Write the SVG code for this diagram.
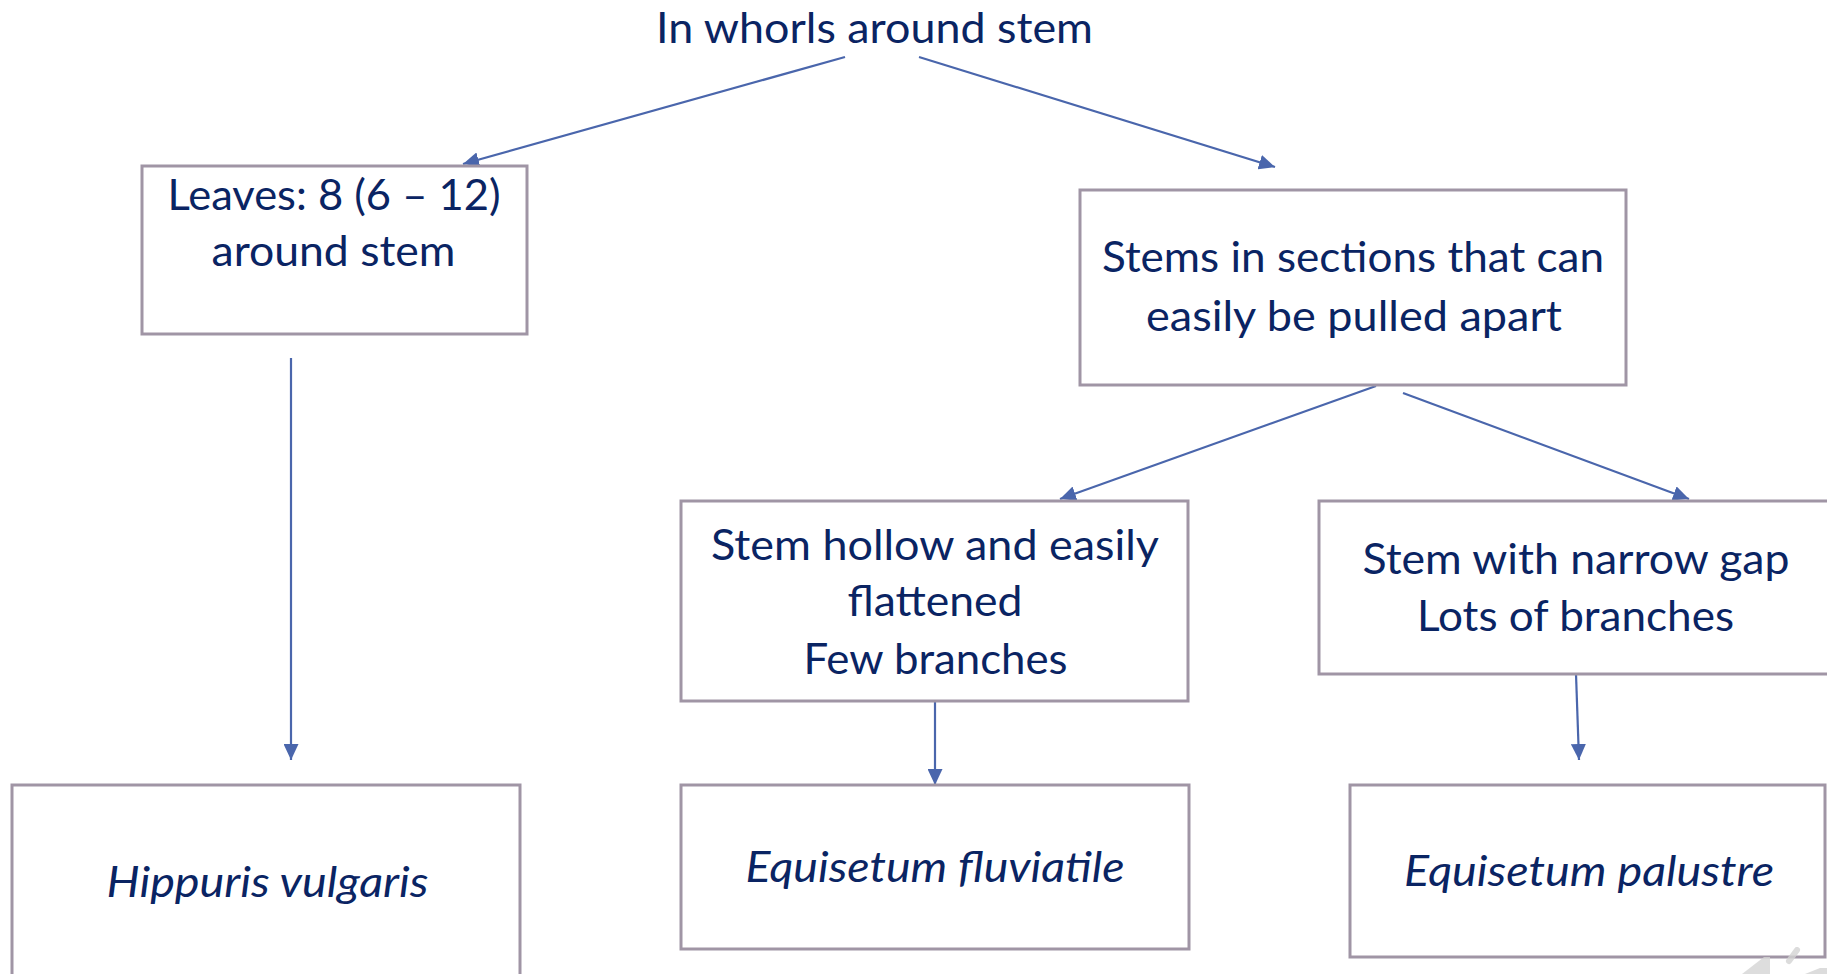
<svg xmlns="http://www.w3.org/2000/svg" width="1827" height="974" viewBox="0 0 1827 974">
<style>
.box{fill:#ffffff;stroke:#a095a5;stroke-width:3}
.t{font-family:Lato,"Open Sans","Liberation Sans",sans-serif;font-size:42px;fill:#0a2463;text-anchor:middle}
.i{font-style:italic}
.c{stroke:#4a66ac;stroke-width:2.2;fill:none;marker-end:url(#ah)}
</style>
<defs>
<marker id="ah" markerUnits="userSpaceOnUse" markerWidth="16" markerHeight="15" refX="16" refY="7.5" orient="auto">
<path d="M0,0 L16,7.5 L0,15 z" fill="#4a66ac"/>
</marker>
</defs>
<rect width="1827" height="974" fill="#ffffff"/>
<g id="title">
<text class="t" x="874.5" y="43" textLength="437" lengthAdjust="spacingAndGlyphs">In whorls around stem</text>
</g>
<g id="connectors">
<line class="c" x1="845" y1="57" x2="463" y2="164"/>
<line class="c" x1="919" y1="57" x2="1275" y2="167"/>
<line class="c" x1="1376" y1="386" x2="1060" y2="499"/>
<line class="c" x1="1403" y1="393" x2="1689" y2="499"/>
<line class="c" x1="291" y1="358" x2="291" y2="760"/>
<line class="c" x1="935" y1="701" x2="935" y2="785"/>
<line class="c" x1="1576" y1="674" x2="1579" y2="760"/>
</g>
<g id="leaves">
<rect class="box" x="142" y="166" width="385" height="168"/>
<text class="t" x="334" y="210" textLength="333" lengthAdjust="spacingAndGlyphs">Leaves: 8 (6 – 12)</text>
<text class="t" x="333.5" y="266" textLength="244" lengthAdjust="spacingAndGlyphs">around stem</text>
</g>
<g id="stems-sections">
<rect class="box" x="1080" y="190" width="546" height="195"/>
<text class="t" x="1353" y="272" textLength="502" lengthAdjust="spacingAndGlyphs">Stems in sections that can</text>
<text class="t" x="1354" y="331" textLength="416" lengthAdjust="spacingAndGlyphs">easily be pulled apart</text>
</g>
<g id="stem-hollow">
<rect class="box" x="681" y="501" width="507" height="200"/>
<text class="t" x="935" y="560" textLength="448" lengthAdjust="spacingAndGlyphs">Stem hollow and easily</text>
<text class="t" x="935" y="616" textLength="175" lengthAdjust="spacingAndGlyphs">flattened</text>
<text class="t" x="935.5" y="674" textLength="264" lengthAdjust="spacingAndGlyphs">Few branches</text>
</g>
<g id="stem-narrow">
<rect class="box" x="1319" y="501" width="530" height="173"/>
<text class="t" x="1576" y="574" textLength="427" lengthAdjust="spacingAndGlyphs">Stem with narrow gap</text>
<text class="t" x="1575.5" y="631" textLength="317" lengthAdjust="spacingAndGlyphs">Lots of branches</text>
</g>
<g id="hippuris">
<rect class="box" x="12" y="785" width="508" height="210"/>
<text class="t i" x="267.5" y="897" textLength="322" lengthAdjust="spacingAndGlyphs">Hippuris vulgaris</text>
</g>
<g id="fluviatile">
<rect class="box" x="681" y="785" width="508" height="164"/>
<text class="t i" x="935" y="882" textLength="379" lengthAdjust="spacingAndGlyphs">Equisetum fluviatile</text>
</g>
<g id="palustre">
<rect class="box" x="1350" y="785" width="475" height="172"/>
<text class="t i" x="1589" y="886" textLength="370" lengthAdjust="spacingAndGlyphs">Equisetum palustre</text>
</g>
<g id="corner-mark" fill="#d4d4d4" stroke="none" opacity="0.8">
<polygon points="1742,974 1764,957 1770,957 1770,974"/>
<line x1="1789" y1="961" x2="1797" y2="950" stroke="#d4d4d4" stroke-width="6" stroke-linecap="round"/>
<polygon points="1805,974 1820,968 1827,968 1827,974"/>
</g>
</svg>
